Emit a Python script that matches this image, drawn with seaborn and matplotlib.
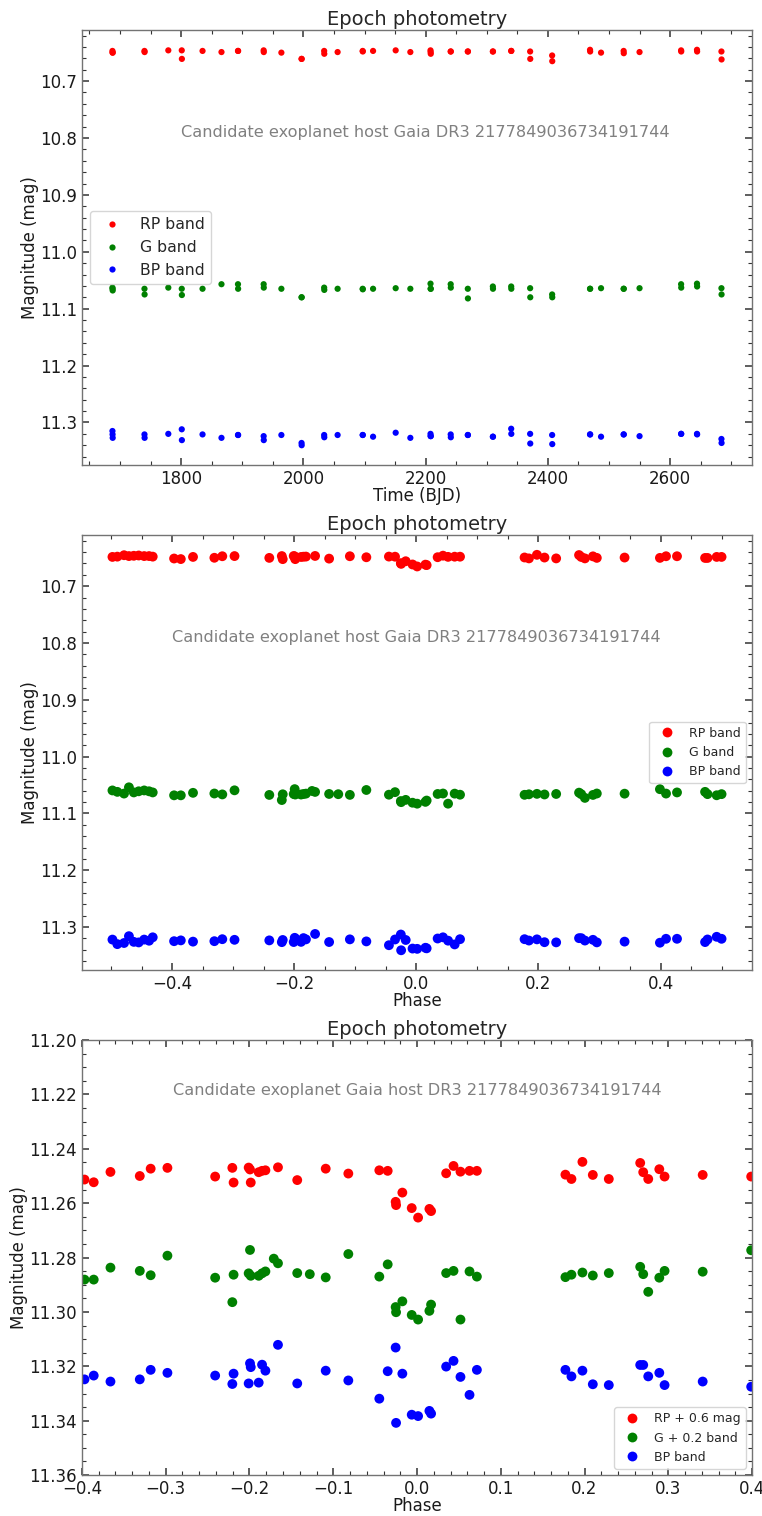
import numpy as np
import pandas as pd
import matplotlib
matplotlib.use("Agg")
import matplotlib.pyplot as plt
import seaborn as sns

# ---------------------------------------------------------------
# Gaia DR3 epoch photometry: magnitudes per transit vs time (BJD)
# ---------------------------------------------------------------
time_bjd = [1687.6, 1687.8, 1688.0, 1740.0, 1740.2, 1779.0, 1801.0, 1801.2,
            1835.0, 1866.0, 1893.0, 1893.2, 1935.0, 1935.2, 1964.0, 1997.0,
            1997.2, 2034.0, 2034.2, 2056.0, 2097.0, 2097.2, 2114.0, 2151.0,
            2175.0, 2208.0, 2208.2, 2208.4, 2241.0, 2241.2, 2269.0, 2269.2,
            2310.0, 2310.2, 2340.0, 2340.2, 2371.0, 2371.2, 2407.0, 2407.2,
            2469.0, 2469.2, 2487.0, 2524.0, 2524.2, 2550.0, 2618.0, 2618.2,
            2644.0, 2644.2, 2684.0, 2684.2]
rp_time = [10.647, 10.650, 10.650, 10.647, 10.649, 10.646, 10.646, 10.661,
           10.647, 10.649, 10.647, 10.647, 10.646, 10.649, 10.650, 10.661,
           10.661, 10.647, 10.652, 10.649, 10.647, 10.648, 10.647, 10.646,
           10.649, 10.646, 10.649, 10.652, 10.648, 10.648, 10.648, 10.648,
           10.648, 10.648, 10.647, 10.647, 10.648, 10.661, 10.655, 10.665,
           10.645, 10.648, 10.650, 10.647, 10.651, 10.649, 10.646, 10.648,
           10.645, 10.648, 10.648, 10.662]
g_time = [11.063, 11.065, 11.068, 11.065, 11.075, 11.063, 11.065, 11.076,
          11.065, 11.057, 11.057, 11.065, 11.057, 11.063, 11.065, 11.080,
          11.080, 11.063, 11.067, 11.065, 11.065, 11.066, 11.065, 11.064,
          11.065, 11.056, 11.065, 11.065, 11.057, 11.063, 11.065, 11.082,
          11.061, 11.065, 11.061, 11.065, 11.064, 11.080, 11.075, 11.080,
          11.065, 11.065, 11.064, 11.065, 11.065, 11.064, 11.057, 11.063,
          11.056, 11.061, 11.064, 11.075]
bp_time = [11.315, 11.321, 11.327, 11.321, 11.327, 11.320, 11.312, 11.331,
           11.321, 11.327, 11.322, 11.322, 11.324, 11.331, 11.322, 11.336,
           11.340, 11.322, 11.326, 11.322, 11.322, 11.322, 11.325, 11.318,
           11.327, 11.320, 11.324, 11.324, 11.321, 11.326, 11.322, 11.322,
           11.325, 11.325, 11.311, 11.320, 11.320, 11.337, 11.322, 11.338,
           11.321, 11.321, 11.325, 11.321, 11.321, 11.324, 11.320, 11.320,
           11.320, 11.321, 11.329, 11.336]

# ---------------------------------------------------------------
# Same transits folded on the candidate period (phase -0.5..0.5)
# ---------------------------------------------------------------
phase = [-0.498, -0.490, -0.479, -0.471, -0.463, -0.455, -0.446, -0.438,
         -0.432, -0.397, -0.386, -0.366, -0.331, -0.318, -0.298, -0.241,
         -0.2205, -0.219, -0.201, -0.1994, -0.1985, -0.189, -0.185, -0.181,
         -0.171, -0.166, -0.143, -0.128, -0.109, -0.082, -0.045, -0.035,
         -0.0255, -0.0250, -0.0175, -0.0063, 0.0013, 0.0148, 0.0168, 0.0348,
         0.0436, 0.0519, 0.0627, 0.0715, 0.1772, 0.1844, 0.1975, 0.2099,
         0.2290, 0.2665, 0.2701, 0.2761, 0.2893, 0.2956, 0.3411, 0.3990,
         0.409, 0.427, 0.473, 0.477, 0.492, 0.500]
rp_phase = [10.6485, 10.6480, 10.6455, 10.6470, 10.6465, 10.6460, 10.6470,
            10.6470, 10.6480, 10.6513, 10.6523, 10.6485, 10.6500, 10.6473,
            10.6470, 10.6502, 10.6470, 10.6524, 10.6469, 10.6476, 10.6524,
            10.6486, 10.6481, 10.6479, np.nan, 10.6468, 10.6515, np.nan,
            10.6473, 10.6491, 10.6479, 10.6481, 10.6595, 10.6607, 10.6561,
            10.6618, 10.6653, 10.6621, 10.6629, 10.6490, 10.6463, 10.6484,
            10.6481, 10.6481, 10.6495, 10.6511, 10.6448, 10.6496, 10.6511,
            10.6452, 10.6486, 10.6511, 10.6475, 10.6502, 10.6496, 10.6502,
            10.6473, 10.6473, 10.6503, 10.6503, 10.6485, 10.6485]
g_phase = [11.0595, 11.0620, 11.0650, 11.0540, 11.0630, 11.0610, 11.0595,
           11.0610, 11.0630, 11.0681, 11.0681, 11.0637, 11.0649, 11.0665,
           11.0593, 11.0674, 11.0764, 11.0663, 11.0658, 11.0572, 11.0667,
           11.0667, 11.0658, 11.0651, 11.0604, 11.0621, 11.0657, 11.0661,
           11.0673, 11.0587, 11.0670, 11.0625, 11.0782, 11.0801, 11.0761,
           11.0811, 11.0828, 11.0796, 11.0773, 11.0657, 11.0649, 11.0828,
           11.0651, 11.0670, 11.0672, 11.0663, 11.0655, 11.0666, 11.0657,
           11.0634, 11.0661, 11.0726, 11.0674, 11.0649, 11.0652, 11.0573,
           11.0650, 11.0630, 11.0620, 11.0660, 11.0680, 11.0660]
bp_phase = [11.3220, 11.3300, 11.3280, 11.3160, 11.3260, 11.3270, 11.3220,
            11.3240, 11.3180, 11.3248, 11.3234, 11.3256, 11.3248, 11.3213,
            11.3224, 11.3234, 11.3265, 11.3227, 11.3263, 11.3189, 11.3203,
            11.3260, 11.3194, 11.3216, np.nan, 11.3121, 11.3263, np.nan,
            11.3216, 11.3252, 11.3319, 11.3218, 11.3131, 11.3408, 11.3227,
            11.3378, 11.3383, 11.3364, 11.3374, 11.3201, 11.3180, 11.3239,
            11.3305, 11.3213, 11.3213, 11.3237, 11.3216, 11.3266, 11.3269,
            11.3195, 11.3195, 11.3237, 11.3224, 11.3269, 11.3256, 11.3275,
            11.3206, 11.3206, 11.3264, 11.3218, 11.3171, 11.3206]

band_colors = ["red", "green", "blue"]
band_labels = ["RP band", "G band", "BP band"]
shift_labels = ["RP + 0.6 mag", "G + 0.2 band", "BP band"]
RP_SHIFT = 0.6
G_SHIFT = 0.22
target_text = "Candidate exoplanet host Gaia DR3 2177849036734191744"
target_text_zoom = "Candidate exoplanet Gaia host DR3 2177849036734191744"


def long_frame(xname, xvals, mags, labels):
    parts = []
    for lab, m in zip(labels, mags):
        parts.append(pd.DataFrame({xname: xvals, "mag": m, "band": lab}))
    return pd.concat(parts, ignore_index=True).dropna()


sns.set_theme(style="ticks", rc={
    "xtick.direction": "in", "ytick.direction": "in",
    "xtick.top": True, "ytick.right": True,
    "xtick.major.size": 5, "ytick.major.size": 5,
    "xtick.minor.size": 2.8, "ytick.minor.size": 2.8,
    "xtick.major.width": 1.1, "ytick.major.width": 1.1,
    "xtick.minor.width": 0.8, "ytick.minor.width": 0.8,
    "axes.edgecolor": "0.45", "axes.linewidth": 1.0,
    "xtick.color": "0.2", "ytick.color": "0.2",
    "xtick.labelcolor": "0.1", "ytick.labelcolor": "0.1",
    "axes.labelcolor": "0.1",
    "xtick.labelsize": 12, "ytick.labelsize": 12,
    "axes.labelsize": 12, "axes.titlesize": 14,
    "axes.titlepad": 3.5,
})
plt.rcParams["font.family"] = ["DejaVu Sans"]

fig, axes = plt.subplots(3, 1, figsize=(7.62, 15.16), dpi=100)
fig.subplots_adjust(left=0.1076, right=0.9869, top=0.9802, bottom=0.0270,
                    hspace=0.161)


def label_axes(ax, xlabel):
    ax.set_xlabel(xlabel, labelpad=-0.8)
    ax.set_ylabel("Magnitude (mag)", labelpad=0.8)
    ax.set_title("Epoch photometry")


# Panel 1: magnitudes against time
ax = axes[0]
df_t = long_frame("time", time_bjd, [rp_time, g_time, bp_time], band_labels)
sns.scatterplot(data=df_t, x="time", y="mag", hue="band",
                hue_order=band_labels, palette=band_colors, s=20,
                linewidth=0, ax=ax)
ax.invert_yaxis()
label_axes(ax, "Time (BJD)")
ax.text(2200, 10.79, target_text, ha="center", va="center", color="gray",
        fontsize=11.6)
sns.move_legend(ax, "center left", title=None, frameon=True, fontsize=11.3)

# Panel 2: folded magnitudes
ax = axes[1]
df_p = long_frame("phase", phase, [rp_phase, g_phase, bp_phase], band_labels)
sns.scatterplot(data=df_p, x="phase", y="mag", hue="band",
                hue_order=band_labels, palette=band_colors, s=50,
                linewidth=0, ax=ax)
ax.invert_yaxis()
label_axes(ax, "Phase")
ax.text(0.0, 10.79, target_text, ha="center", va="center", color="gray",
        fontsize=11.6)
sns.move_legend(ax, "center right", title=None, frameon=True, fontsize=9)

# Panel 3: folded magnitudes with the bands shifted together
ax = axes[2]
rp_shifted = [m + RP_SHIFT for m in rp_phase]
g_shifted = [m + G_SHIFT for m in g_phase]
df_s = long_frame("phase", phase, [rp_shifted, g_shifted, bp_phase],
                  shift_labels)
sns.scatterplot(data=df_s, x="phase", y="mag", hue="band",
                hue_order=shift_labels, palette=band_colors, s=50,
                linewidth=0, ax=ax)
ax.set_xlim(-0.4, 0.4)
ax.set_ylim(11.36, 11.20)
label_axes(ax, "Phase")
ax.text(0.0, 11.2185, target_text_zoom, ha="center", va="center",
        color="gray", fontsize=11.6)
sns.move_legend(ax, "lower right", title=None, frameon=True, fontsize=9)

for ax in axes:
    ax.minorticks_on()

fig.savefig("out.png", dpi=100)
